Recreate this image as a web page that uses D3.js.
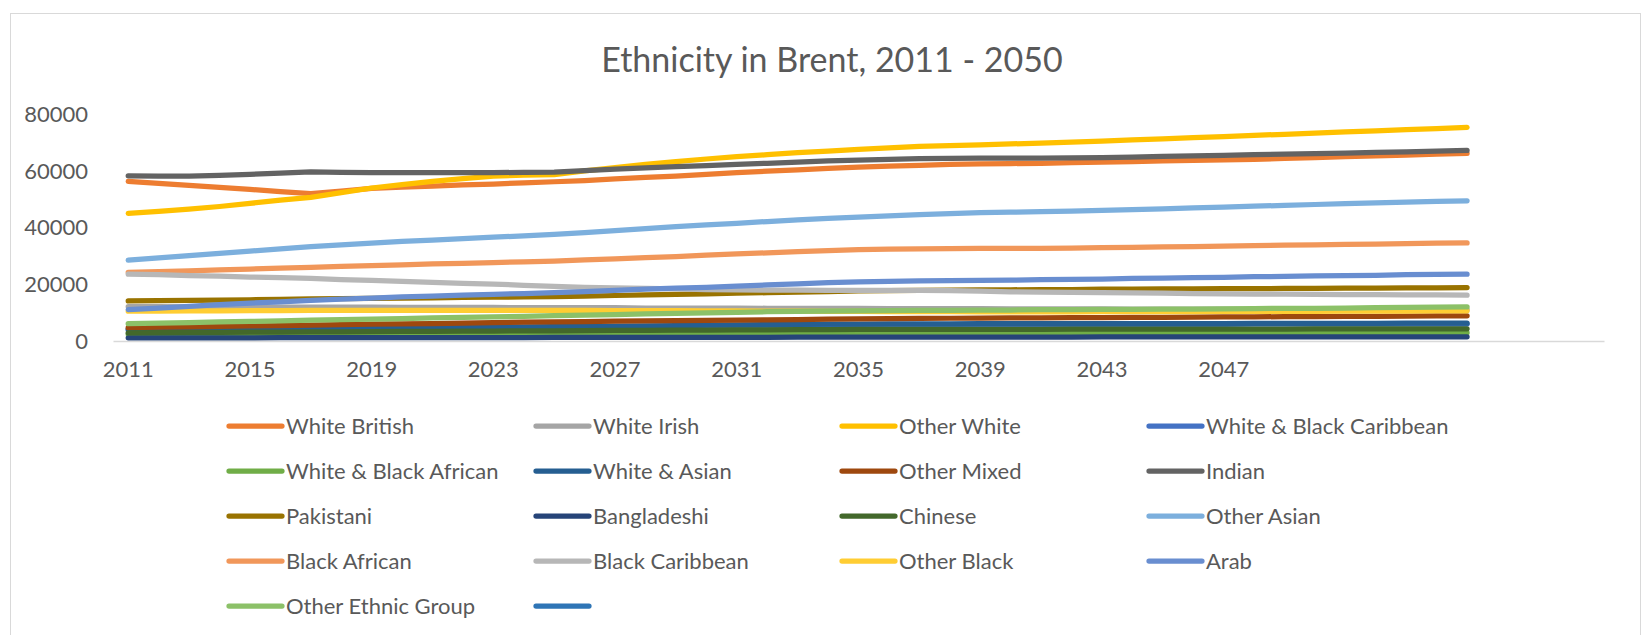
<!DOCTYPE html>
<html>
<head>
<meta charset="utf-8">
<script src="https://cdn.jsdelivr.net/npm/d3@7"></script>
<style>
  body { margin: 0; background: #fff; }
  text { font-family: Lato, "Open Sans", sans-serif; fill: #595959; }
  .title { font-size: 34px; }
  .tick text, .legend-label { font-size: 22px; }
</style>
</head>
<body>
<svg width="1644" height="635"></svg>
<script>
// category labels: 40 years, the rest of the category range is empty
const categories = [
  "2011", "2012", "2013", "2014", "2015", "2016", "2017", "2018", "2019", "2020",
  "2021", "2022", "2023", "2024", "2025", "2026", "2027", "2028", "2029", "2030",
  "2031", "2032", "2033", "2034", "2035", "2036", "2037", "2038", "2039", "2040",
  "2041", "2042", "2043", "2044", "2045", "2046", "2047", "2048", "2049", "2050",
  "", "", "", "", "", "", "", "", ""
];

const yTicks = [0, 20000, 40000, 60000, 80000];

const whiteBritish = [56100, 55400, 54700, 54000, 53300, 52500, 51800, 52700, 53700, 54100, 54500, 54900, 55200, 55600, 56000, 56400, 57000, 57500, 58000, 58600, 59200, 59700, 60200, 60700, 61100, 61500, 61800, 62100, 62300, 62400, 62500, 62700, 62900, 63100, 63300, 63500, 63700, 63900, 64200, 64500, 64800, 65100, 65400, 65700, 66000];
const whiteIrish = [12100, 12100, 12000, 12000, 12000, 11900, 11900, 11900, 11900, 11800, 11800, 11800, 11800, 11700, 11700, 11700, 11700, 11600, 11600, 11600, 11600, 11500, 11500, 11500, 11500, 11400, 11400, 11400, 11400, 11300, 11300, 11300, 11300, 11200, 11200, 11200, 11200, 11100, 11100, 11100, 11100, 11000, 11000, 11000, 11000];
const otherWhite = [44900, 45600, 46400, 47300, 48400, 49500, 50500, 52200, 53800, 55000, 56100, 57100, 58000, 58300, 58500, 59800, 61000, 62100, 63100, 64000, 64800, 65500, 66200, 66800, 67400, 67900, 68400, 68700, 69000, 69300, 69600, 69900, 70300, 70700, 71100, 71500, 71900, 72300, 72700, 73100, 73500, 73900, 74300, 74700, 75100];
const whiteBlackCaribbean = [3900, 4000, 4100, 4150, 4200, 4300, 4350, 4400, 4450, 4500, 4550, 4600, 4650, 4700, 4750, 4850, 4950, 5050, 5150, 5250, 5350, 5450, 5550, 5600, 5650, 5700, 5750, 5750, 5800, 5800, 5800, 5800, 5800, 5850, 5850, 5850, 5850, 5900, 5900, 5900, 5900, 5900, 5950, 5950, 5950];
const whiteBlackAfrican = [2400, 2420, 2440, 2460, 2480, 2500, 2520, 2540, 2560, 2580, 2600, 2610, 2620, 2630, 2640, 2650, 2660, 2670, 2680, 2690, 2700, 2710, 2720, 2730, 2740, 2750, 2760, 2770, 2780, 2790, 2800, 2810, 2820, 2830, 2840, 2850, 2860, 2870, 2880, 2890, 2900, 2910, 2920, 2930, 2940];
const whiteAsian = [4200, 4300, 4400, 4450, 4500, 4600, 4650, 4700, 4750, 4800, 4850, 4900, 4950, 5000, 5050, 5150, 5250, 5350, 5450, 5550, 5650, 5750, 5850, 5900, 5950, 6000, 6050, 6050, 6100, 6100, 6100, 6100, 6100, 6150, 6150, 6150, 6150, 6200, 6200, 6200, 6200, 6200, 6250, 6250, 6250];
const otherMixed = [4700, 4850, 5000, 5150, 5300, 5450, 5600, 5750, 5900, 6000, 6150, 6300, 6450, 6600, 6750, 6850, 6950, 7050, 7150, 7250, 7350, 7450, 7550, 7650, 7750, 7850, 7950, 8000, 8050, 8100, 8150, 8200, 8250, 8300, 8350, 8400, 8450, 8500, 8550, 8600, 8650, 8700, 8750, 8800, 8850];
const indian = [58100, 58000, 58000, 58200, 58600, 59000, 59500, 59300, 59200, 59200, 59200, 59200, 59200, 59300, 59400, 59900, 60400, 60900, 61300, 61700, 62100, 62500, 62900, 63300, 63600, 63900, 64100, 64200, 64300, 64300, 64300, 64400, 64500, 64700, 64900, 65100, 65300, 65500, 65700, 65900, 66100, 66300, 66500, 66800, 67000];
const pakistani = [14100, 14200, 14300, 14400, 14500, 14600, 14800, 14900, 15000, 15100, 15200, 15300, 15400, 15500, 15600, 15800, 16000, 16200, 16400, 16600, 16800, 17000, 17200, 17400, 17600, 17700, 17800, 17900, 18000, 18000, 18100, 18100, 18200, 18200, 18300, 18300, 18400, 18400, 18500, 18500, 18600, 18600, 18700, 18700, 18800];
const bangladeshi = [1100, 1110, 1120, 1130, 1140, 1150, 1160, 1170, 1180, 1190, 1200, 1210, 1220, 1230, 1240, 1250, 1260, 1270, 1280, 1290, 1300, 1310, 1320, 1330, 1340, 1350, 1360, 1370, 1380, 1390, 1400, 1400, 1410, 1410, 1420, 1420, 1430, 1430, 1440, 1440, 1450, 1450, 1460, 1460, 1470];
const chinese = [2900, 2950, 3000, 3050, 3100, 3150, 3200, 3250, 3300, 3350, 3400, 3450, 3500, 3550, 3600, 3650, 3700, 3750, 3800, 3850, 3900, 3950, 4000, 4000, 4050, 4050, 4100, 4100, 4100, 4100, 4100, 4150, 4150, 4150, 4150, 4200, 4200, 4200, 4200, 4250, 4250, 4250, 4300, 4300, 4300];
const otherAsian = [28400, 29200, 30000, 30800, 31600, 32400, 33200, 33800, 34400, 35000, 35500, 36000, 36500, 37000, 37500, 38100, 38800, 39500, 40200, 40800, 41400, 42000, 42600, 43100, 43600, 44000, 44400, 44800, 45100, 45300, 45500, 45700, 45900, 46200, 46500, 46800, 47100, 47400, 47700, 48000, 48300, 48600, 48800, 49100, 49300];
const blackAfrican = [24100, 24400, 24700, 25000, 25300, 25600, 25900, 26200, 26500, 26800, 27100, 27300, 27600, 27800, 28100, 28500, 28900, 29300, 29700, 30200, 30600, 31000, 31400, 31800, 32100, 32300, 32400, 32500, 32600, 32600, 32600, 32700, 32800, 32900, 33100, 33200, 33400, 33500, 33700, 33800, 34000, 34100, 34200, 34400, 34500];
const blackCaribbean = [23500, 23300, 23000, 22800, 22500, 22300, 22000, 21600, 21300, 21000, 20600, 20300, 20000, 19600, 19200, 18900, 18700, 18500, 18300, 18100, 18000, 17900, 17900, 17800, 17800, 17800, 17800, 17700, 17500, 17300, 17200, 17100, 17000, 16900, 16800, 16700, 16600, 16500, 16500, 16400, 16300, 16300, 16200, 16200, 16100];
const otherBlack = [10500, 10500, 10600, 10600, 10700, 10700, 10800, 10800, 10800, 10800, 10800, 10800, 10800, 10800, 10800, 10800, 10700, 10700, 10700, 10600, 10600, 10500, 10500, 10400, 10400, 10300, 10300, 10300, 10200, 10200, 10200, 10200, 10300, 10300, 10300, 10300, 10400, 10400, 10400, 10400, 10500, 10500, 10500, 10600, 10600];
const arab = [11000, 11600, 12200, 12800, 13300, 13800, 14300, 14700, 15100, 15500, 15800, 16100, 16400, 16700, 17000, 17400, 17800, 18200, 18600, 18900, 19300, 19700, 20100, 20500, 20800, 21000, 21100, 21200, 21300, 21400, 21600, 21700, 21800, 22000, 22100, 22300, 22400, 22600, 22700, 22900, 23000, 23100, 23300, 23400, 23500];
const otherEthnic = [6100, 6300, 6500, 6700, 6900, 7100, 7300, 7500, 7700, 7900, 8100, 8300, 8500, 8700, 8900, 9100, 9300, 9500, 9700, 9900, 10100, 10300, 10400, 10500, 10600, 10700, 10800, 10800, 10900, 10900, 11000, 11000, 11100, 11100, 11200, 11200, 11300, 11400, 11500, 11500, 11600, 11700, 11800, 11900, 12000];
const unnamed = [];

const seriesNames = [
  "White British", "White Irish", "Other White", "White & Black Caribbean",
  "White & Black African", "White & Asian", "Other Mixed", "Indian",
  "Pakistani", "Bangladeshi", "Chinese", "Other Asian",
  "Black African", "Black Caribbean", "Other Black", "Arab",
  "Other Ethnic Group", ""
];
const seriesValues = [
  whiteBritish, whiteIrish, otherWhite, whiteBlackCaribbean,
  whiteBlackAfrican, whiteAsian, otherMixed, indian,
  pakistani, bangladeshi, chinese, otherAsian,
  blackAfrican, blackCaribbean, otherBlack, arab,
  otherEthnic, unnamed
];
const seriesColors = [
  "#ED7D31", "#A5A5A5", "#FFC000", "#4472C4",
  "#70AD47", "#255E91", "#9E480E", "#636363",
  "#997300", "#264478", "#43682B", "#7CAFDD",
  "#F1975A", "#B7B7B7", "#FFCD33", "#698ED0",
  "#8CC168", "#2E75B6"
];

const svg = d3.select("svg");

const plot = { left: 113, right: 1604, top: 113.5, bottom: 341 };

// chart area border
svg.append("rect")
  .attr("x", 10.5).attr("y", 13.5)
  .attr("width", 1630).attr("height", 640)
  .attr("fill", "#fff")
  .attr("stroke", "#D9D9D9");

svg.append("text")
  .attr("class", "title")
  .attr("x", 832)
  .attr("y", 72)
  .attr("text-anchor", "middle")
  .text("Ethnicity in Brent, 2011 - 2050");

const xScale = d3.scaleBand()
  .domain(d3.range(categories.length))
  .range([plot.left, plot.right]);
const xPos = (i) => xScale(i) + xScale.bandwidth() / 2;

const yScale = d3.scaleLinear()
  .domain([0, 80000])
  .range([plot.bottom, plot.top]);

// value axis labels, no gridlines
const yAxisG = svg.append("g")
  .attr("transform", `translate(${plot.left}, 0)`)
  .call(d3.axisLeft(yScale).tickValues(yTicks).tickSize(0).tickPadding(25).tickFormat(d3.format("d")));
yAxisG.select(".domain").remove();
yAxisG.selectAll(".tick text").attr("dy", "0.35em");

// category axis
const xAxisG = svg.append("g")
  .attr("transform", `translate(0, ${plot.bottom})`)
  .call(d3.axisBottom(xScale)
    .tickValues(d3.range(0, categories.length, 4))
    .tickFormat((i) => categories[i])
    .tickSize(0)
    .tickPadding(20));
xAxisG.select(".domain").attr("stroke", "#D9D9D9").attr("stroke-width", 1.5);

const line = d3.line()
  .x((d, i) => xPos(i))
  .y((d) => yScale(d));

seriesValues.forEach((values, s) => {
  if (!values.length) return;
  svg.append("path")
    .datum(values)
    .attr("fill", "none")
    .attr("stroke", seriesColors[s])
    .attr("stroke-width", 5.25)
    .attr("stroke-linecap", "round")
    .attr("stroke-linejoin", "round")
    .attr("d", line);
});

// legend, 4 columns
const legendCols = [229, 536, 842, 1149];
const legendRow0 = 426;
const legendRowStep = 45;

const legend = svg.append("g");
seriesNames.forEach((name, s) => {
  const col = s % 4;
  const row = Math.floor(s / 4);
  const lx = legendCols[col];
  const ly = legendRow0 + row * legendRowStep;
  legend.append("line")
    .attr("x1", lx).attr("x2", lx + 53)
    .attr("y1", ly).attr("y2", ly)
    .attr("stroke", seriesColors[s])
    .attr("stroke-width", 5.25)
    .attr("stroke-linecap", "round");
  legend.append("text")
    .attr("class", "legend-label")
    .attr("x", lx + 57)
    .attr("y", ly)
    .attr("dy", "0.35em")
    .text(name);
});
</script>
</body>
</html>
